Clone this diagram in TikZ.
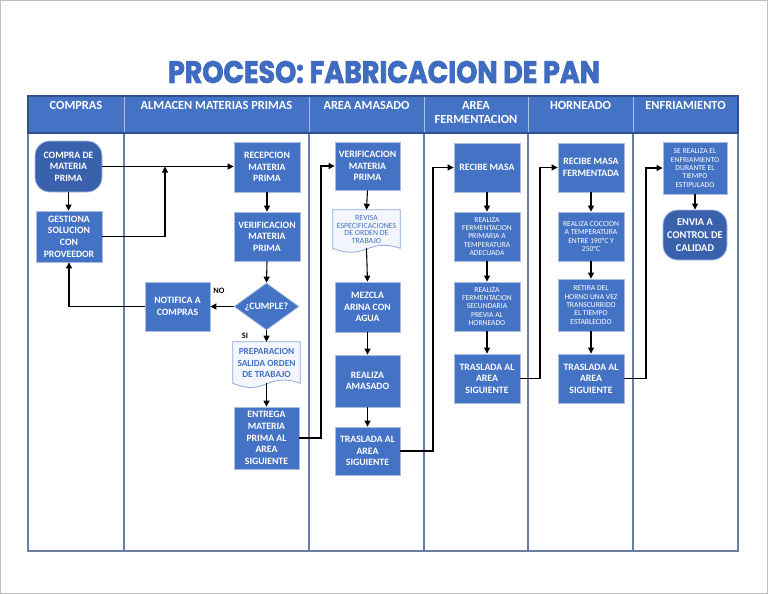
\documentclass[tikz,border=0pt]{standalone}
\usepackage{graphicx}
\usepackage{fontspec}
\setmainfont{Carlito}
\newfontfamily\titlefont{Poppins}[BoldFeatures={FakeBold=2.5}]
\usetikzlibrary{arrows.meta,shapes.geometric}
\definecolor{boxblue}{HTML}{4472C4}
\definecolor{termblue}{HTML}{3A62AC}
\definecolor{edgeblue}{HTML}{A9BDE3}
\definecolor{linec}{HTML}{6B7EA6}
\definecolor{hdrdark}{HTML}{2F528F}
\definecolor{docfill}{HTML}{F3F6FC}
\definecolor{docedge}{HTML}{8FAADC}
\definecolor{titleblue}{HTML}{3F6CC0}
\begin{document}
\begin{tikzpicture}[x=0.75pt,y=-0.75pt,
  sz/.style 2 args={minimum width=#1*0.75pt, minimum height=#2*0.75pt},
  pbox/.style={rectangle, fill=boxblue, draw=edgeblue, line width=0.6pt, text=white, align=center, inner sep=1pt, font=\bfseries\fontsize{7.3}{8.7}\selectfont},
  tbox/.style={pbox, fill=termblue, rounded corners=11pt},
  sbox/.style={pbox, font=\fontsize{5.7}{6.3}\selectfont},
  docnode/.style={rectangle, inner sep=1pt, align=center, text=boxblue},
  docshape/.style={fill=docfill, draw=docedge, line width=0.6pt},
  dec/.style={diamond, aspect=1.4, fill=boxblue, draw=edgeblue, line width=0.6pt, text=white, inner sep=0pt, font=\bfseries\fontsize{7.3}{8.7}\selectfont},
  arr/.style={draw=black, line width=0.8pt, -{Triangle[length=4.5pt,width=4.5pt]}},
  hdr/.style={text=white, font=\bfseries\fontsize{9.3}{10.6}\selectfont, align=center, anchor=north, inner sep=0pt},
  lbl/.style={font=\bfseries\fontsize{6.2}{7}\selectfont, inner sep=0pt}
]
\useasboundingbox (0,0) rectangle (768,594);
\draw[gray!50, line width=0.8pt] (0.5,0.5) rectangle (767.5,593.5);

% title
\node[inner sep=0pt, text=titleblue] (title) at (384,72) {\resizebox{324pt}{16.5pt}{\titlefont\bfseries PROCESO: FABRICACION DE PAN}};

% table
\fill[boxblue] (28,96) rectangle (738,133);
\draw[linec, line width=0.8pt] (28,133) rectangle (738,551);
\foreach \cx in {124,309,424,528,633} {
  \draw[linec, line width=0.8pt] (\cx,133) -- (\cx,551);
  \draw[edgeblue, line width=0.6pt] (\cx,96) -- (\cx,133);
}
\draw[hdrdark, line width=0.9pt] (28,96) rectangle (738,133);

\node[hdr] (h1) at (76,101) {COMPRAS};
\node[hdr] (h2) at (216.5,101) {ALMACEN MATERIAS PRIMAS};
\node[hdr] (h3) at (366.5,101) {AREA AMASADO};
\node[hdr] (h4) at (476,101) {AREA\\FERMENTACION};
\node[hdr] (h5) at (580.5,101) {HORNEADO};
\node[hdr] (h6) at (685.5,101) {ENFRIAMIENTO};

% COMPRAS
\node[tbox, sz={67}{51}] (compra) at (68.5,166.5) {COMPRA DE\\MATERIA\\PRIMA};
\node[pbox, sz={66}{51}] (gest) at (69,236.5) {GESTIONA\\SOLUCION\\CON\\PROVEEDOR};

% ALMACEN
\node[pbox, sz={66}{50}] (recep) at (267,167) {RECEPCION\\MATERIA\\PRIMA};
\node[pbox, sz={66}{49}] (verif1) at (267,236.5) {VERIFICACION\\MATERIA\\PRIMA};
\node[dec, sz={65}{47}] (cumple) at (266.5,306.5) {¿CUMPLE?};
\node[pbox, sz={65}{49}] (notif) at (177.5,306.5) {NOTIFICA A\\COMPRAS};
\node[docnode, sz={67}{41}] (prep) at (266.5,362.5) {};
\draw[docshape] (prep.south west) -- (prep.north west) -- (prep.north east) -- (prep.south east)
  .. controls +(-33.5,-12) and +(33.5,14) .. (prep.south west) -- cycle;
\node[docnode, font=\bfseries\fontsize{7}{8.3}\selectfont] (preptext) at (266.5,363) {PREPARACION\\SALIDA ORDEN\\DE TRABAJO};
\node[pbox, sz={65}{62}] (entrega) at (266.5,438) {ENTREGA\\MATERIA\\PRIMA AL\\AREA\\SIGUIENTE};

\node[lbl] (no) at (219,291) {NO};
\node[lbl] (si) at (245,335.5) {SI};

% AMASADO
\node[pbox, sz={65}{48}] (verif2) at (367.5,166) {VERIFICACION\\MATERIA\\PRIMA};
\node[docnode, sz={67}{38}] (revisa) at (366.5,229) {};
\draw[docshape] (revisa.south west) -- (revisa.north west) -- (revisa.north east) -- (revisa.south east)
  .. controls +(-33.5,-11) and +(33.5,13) .. (revisa.south west) -- cycle;
\node[docnode, font=\fontsize{5.9}{5.8}\selectfont] (revisatext) at (366.5,229.5) {REVISA\\ESPECIFICACIONES\\DE ORDEN DE\\TRABAJO};
\node[pbox, sz={65}{50}] (mezcla) at (367.5,307) {MEZCLA\\ARINA CON\\AGUA};
\node[pbox, sz={65}{52}] (amasado) at (367.5,381) {REALIZA\\AMASADO};
\node[pbox, sz={65}{48}] (tras1) at (367.5,451) {TRASLADA AL\\AREA\\SIGUIENTE};

% FERMENTACION
\node[pbox, sz={66}{49}] (recibe) at (487,167.5) {RECIBE MASA};
\node[sbox, sz={66}{49}] (fprim) at (487,236.5) {REALIZA\\FERMENTACION\\PRIMARIA A\\TEMPERATURA\\ADECUADA};
\node[sbox, sz={66}{49}] (fsec) at (487,306.5) {REALIZA\\FERMENTACION\\SECUNDARIA\\PREVIA AL\\HORNEADO};
\node[pbox, sz={66}{49}] (tras2) at (487,378.5) {TRASLADA AL\\AREA\\SIGUIENTE};

% HORNEADO
\node[pbox, sz={66}{49}] (recibef) at (591,167.5) {RECIBE MASA\\FERMENTADA};
\node[sbox, sz={66}{49}] (coccion) at (591,236.5) {REALIZA COCCION\\A TEMPERATURA\\ENTRE 190°C Y\\250°C};
\node[sbox, sz={66}{52}] (retira) at (591,305) {RETIRA DEL\\HORNO UNA VEZ\\TRANSCURRIDO\\EL TIEMPO\\ESTABLECIDO};
\node[pbox, sz={66}{49}] (tras3) at (591,378.5) {TRASLADA AL\\AREA\\SIGUIENTE};

% ENFRIAMIENTO
\node[sbox, sz={64}{52}] (serealiza) at (695,168) {SE REALIZA EL\\ENFRIAMIENTO\\DURANTE EL\\TIEMPO\\ESTIPULADO};
\node[tbox, sz={64}{50}, font=\bfseries\fontsize{7.8}{9.5}\selectfont] (envia) at (695,235) {ENVIA A\\CONTROL DE\\CALIDAD};

% helper coordinates
\coordinate (j1) at (165,166.5);
\coordinate (v1) at (321,0);
\coordinate (v2) at (433,0);
\coordinate (v3) at (540,0);
\coordinate (v4) at (646,0);

% connectors
\draw[arr] (compra.south) -- (compra.south |- gest.north);
\draw[arr] (compra.east) -- (compra.east -| recep.west);
\draw[arr] (gest.east) -| (j1);
\draw[arr] (recep) -- (verif1);
\draw[arr] (verif1.south) -- (cumple.north);
\draw[arr] (cumple.west) -- (notif.east);
\draw[arr] (notif.west) -| (gest.south);
\draw[arr] (cumple.south) -- (prep.north);
\draw[arr] (prep.south) -- (entrega.north);
\draw[arr] (entrega.east) -- (entrega.east -| v1) |- (verif2.west);

\draw[arr] (verif2.south) -- (revisa.north);
\draw[arr] (revisa.south) -- (mezcla.north);
\draw[arr] (mezcla) -- (amasado);
\draw[arr] (amasado) -- (tras1);
\draw[arr] (tras1.east) -- (tras1.east -| v2) |- (recibe.west);

\draw[arr] (recibe) -- (fprim);
\draw[arr] (fprim) -- (fsec);
\draw[arr] (fsec) -- (tras2);
\draw[arr] (tras2.east) -- (tras2.east -| v3) |- (recibef.west);

\draw[arr] (recibef) -- (coccion);
\draw[arr] (coccion) -- (retira);
\draw[arr] (retira) -- (tras3);
\draw[arr] (tras3.east) -- (tras3.east -| v4) |- (serealiza.west);

\draw[arr] (serealiza) -- (envia);
\end{tikzpicture}
\end{document}
